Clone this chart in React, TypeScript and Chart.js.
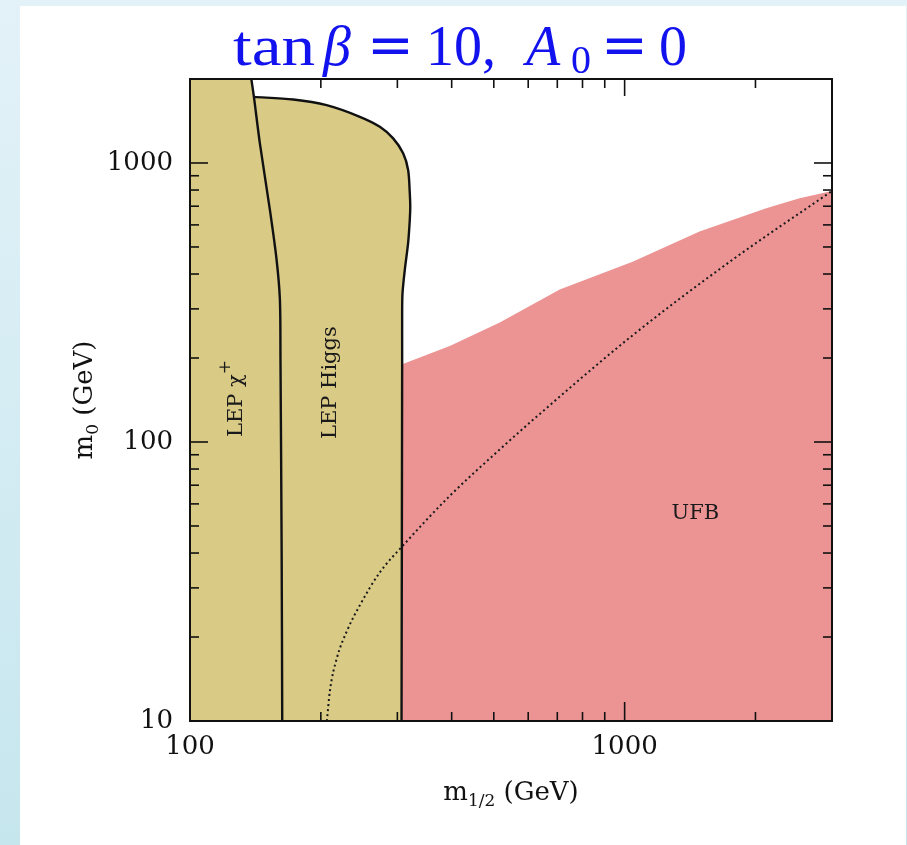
import React, { useEffect, useRef } from "react";
import { Chart, registerables } from "chart.js";

Chart.register(...registerables);

// Axis ranges (GeV)
const M12_MIN = 100;
const M12_MAX = 3000;
const M0_MIN = 10;
const M0_MAX = 2000;

// LEP chargino bound: m_1/2 vs m_0
const CHARGINO_M12 = [138.4, 140.3, 144.8, 152.7, 158.2, 161.0, 161.5, 162.5, 163.0];
const CHARGINO_M0 = [2000, 1725, 1176, 679, 450, 324, 198, 40.5, 10];

// LEP Higgs bound
const HIGGS_M12 = [140.3, 172.8, 206.2, 245.9, 273.4, 293.4, 309.3, 317.6, 320.4, 321.2, 320.4, 317.6, 312.1, 308.3, 307.7, 307.7, 306.7];
const HIGGS_M0 = [1725, 1689, 1611, 1464, 1348, 1225, 1083, 944, 779, 698, 626, 517, 415, 342, 291, 198, 10];

// Upper edge of the UFB-excluded region
const UFB_M12 = [307.7, 396, 516, 709, 1043, 1487, 2117, 2526, 3000];
const UFB_M0 = [190, 221, 268, 352, 443, 568, 689, 748, 794];

// Dotted contour
const DOT_M12 = [206.5, 209.8, 217.7, 229.6, 245.9, 273.4, 308.9, 396, 516, 614.5, 1043, 1771, 3000];
const DOT_M0 = [10, 12.8, 16.8, 21.0, 26.0, 34.1, 42.5, 64.1, 94.0, 119.8, 241.1, 450, 794];

// Tick marks and labels
const X_LABELED = [100, 1000];
const Y_LABELED = [10, 100, 1000];
const X_MINOR = [200, 300, 400, 500, 600, 700, 800, 900, 2000];
const X_MAJOR = [1000];
const Y_MINOR = [20, 30, 40, 50, 60, 70, 80, 90, 200, 300, 400, 500, 600, 700, 800, 900];
const Y_MAJOR = [100, 1000];

// In-plot annotations (anchored in data coordinates)
const REGION_LABELS = [
  { parts: [{ t: "LEP \u03c7", s: 21, dy: 0 }, { t: "+", s: 17, dy: -12 }], m12: 131.7, m0: 104.2, rotate: true },
  { parts: [{ t: "LEP Higgs", s: 21, dy: 0 }], m12: 216.6, m0: 102.5, rotate: true },
  { parts: [{ t: "UFB", s: 21, dy: 0 }], m12: 1282, m0: 53.1, rotate: false },
];

const TAN = "#d9ca86";
const PINK = "#ec9494";
const INK = "#111111";
const SERIF = '"DejaVu Serif", serif';

const pts = (xs: number[], ys: number[]) => xs.map((x, i) => ({ x, y: ys[i] }));

type Part = { t: string; s: number; dy: number };

function drawParts(ctx: CanvasRenderingContext2D, parts: Part[], x: number, y: number, rotate: boolean, centered: boolean) {
  ctx.save();
  ctx.translate(x, y);
  if (rotate) ctx.rotate(-Math.PI / 2);
  ctx.textBaseline = "alphabetic";
  ctx.textAlign = "left";
  const widths = parts.map((p) => {
    ctx.font = `${p.s}px ${SERIF}`;
    return ctx.measureText(p.t).width;
  });
  const total = widths.reduce((a, b) => a + b, 0);
  let cx = centered ? -total / 2 : 0;
  parts.forEach((p, i) => {
    ctx.font = `${p.s}px ${SERIF}`;
    ctx.fillText(p.t, cx, p.dy);
    cx += widths[i];
  });
  ctx.restore();
}

const decorPlugin = {
  id: "frameAndLabels",
  afterDatasetsDraw(chart: any) {
    const { ctx, chartArea } = chart;
    const { left, right, top, bottom } = chartArea;
    const xs = chart.scales.x;
    const ys = chart.scales.y;
    ctx.save();
    ctx.strokeStyle = INK;
    ctx.fillStyle = INK;

    const seg = (x1: number, y1: number, x2: number, y2: number) => {
      ctx.beginPath();
      ctx.moveTo(x1, y1);
      ctx.lineTo(x2, y2);
      ctx.stroke();
    };

    // inward ticks on all four sides
    ctx.lineWidth = 1.6;
    X_MINOR.forEach((v) => {
      const p = xs.getPixelForValue(v);
      seg(p, bottom, p, bottom - 9);
      seg(p, top, p, top + 9);
    });
    X_MAJOR.forEach((v) => {
      const p = xs.getPixelForValue(v);
      seg(p, bottom, p, bottom - 19);
      seg(p, top, p, top + 17);
    });
    Y_MINOR.forEach((v) => {
      const p = ys.getPixelForValue(v);
      seg(left, p, left + 9, p);
      seg(right, p, right - 9, p);
    });
    Y_MAJOR.forEach((v) => {
      const p = ys.getPixelForValue(v);
      seg(left, p, left + 18, p);
      seg(right, p, right - 18, p);
    });

    // frame
    ctx.lineWidth = 2;
    ctx.strokeRect(left, top, right - left, bottom - top);

    // region labels
    ctx.fillStyle = "#1a1a1a";
    REGION_LABELS.forEach((l) => {
      drawParts(ctx, l.parts, xs.getPixelForValue(l.m12), ys.getPixelForValue(l.m0), l.rotate, false);
    });

    // axis titles
    ctx.fillStyle = INK;
    drawParts(
      ctx,
      [
        { t: "m", s: 26, dy: 0 },
        { t: "1/2", s: 17, dy: 6 },
        { t: " (GeV)", s: 26, dy: 0 },
      ],
      (left + right) / 2,
      bottom + 79,
      false,
      true
    );
    drawParts(
      ctx,
      [
        { t: "m", s: 26, dy: 0 },
        { t: "0", s: 17, dy: 6 },
        { t: " (GeV)", s: 26, dy: 0 },
      ],
      left - 98,
      (top + bottom) / 2,
      true,
      true
    );
    ctx.restore();
  },
};

const near = (v: number, list: number[]) => list.some((t) => Math.abs(v - t) < 1e-6 * t);

export default function App() {
  const ref = useRef<HTMLCanvasElement | null>(null);

  useEffect(() => {
    if (!ref.current) return;

    const tanShape = [
      { x: M12_MIN, y: M0_MIN },
      { x: M12_MIN, y: M0_MAX },
      { x: CHARGINO_M12[0], y: CHARGINO_M0[0] },
      ...pts(HIGGS_M12, HIGGS_M0),
    ];
    const ufbShape = [{ x: UFB_M12[0], y: M0_MIN }, ...pts(UFB_M12, UFB_M0), { x: M12_MAX, y: M0_MIN }];

    const chart = new Chart(ref.current, {
      type: "scatter",
      data: {
        datasets: [
          {
            data: tanShape,
            showLine: true,
            fill: "shape",
            backgroundColor: TAN,
            borderWidth: 0,
            borderColor: "rgba(0,0,0,0)",
            pointRadius: 0,
            tension: 0,
            order: 5,
          },
          {
            data: ufbShape,
            showLine: true,
            fill: "shape",
            backgroundColor: PINK,
            borderWidth: 0,
            borderColor: "rgba(0,0,0,0)",
            pointRadius: 0,
            tension: 0,
            order: 4,
          },
          {
            data: pts(DOT_M12, DOT_M0),
            showLine: true,
            borderColor: "#1a1a1a",
            borderWidth: 2,
            borderDash: [2, 3],
            pointRadius: 0,
            cubicInterpolationMode: "monotone",
            order: 3,
          },
          {
            data: pts(CHARGINO_M12, CHARGINO_M0),
            showLine: true,
            borderColor: INK,
            borderWidth: 2.4,
            pointRadius: 0,
            tension: 0.3,
            order: 2,
          },
          {
            data: pts(HIGGS_M12, HIGGS_M0),
            showLine: true,
            borderColor: INK,
            borderWidth: 2.4,
            pointRadius: 0,
            tension: 0.3,
            order: 1,
          },
        ],
      },
      options: {
        animation: false,
        responsive: false,
        devicePixelRatio: 1,
        events: [],
        layout: { padding: { top: 79, right: 75, left: 0, bottom: 0 } },
        plugins: {
          legend: { display: false },
          tooltip: { enabled: false },
          title: { display: false },
        },
        scales: {
          x: {
            type: "logarithmic",
            min: M12_MIN,
            max: M12_MAX,
            grid: { display: false, drawTicks: false },
            border: { display: false },
            afterFit: (s: any) => {
              s.height = 124;
            },
            ticks: {
              autoSkip: false,
              maxRotation: 0,
              minRotation: 0,
              padding: 11,
              color: INK,
              font: { family: SERIF, size: 26 },
              callback: (v: any) => (near(Number(v), X_LABELED) ? String(Math.round(Number(v))) : ""),
            },
          },
          y: {
            type: "logarithmic",
            min: M0_MIN,
            max: M0_MAX,
            grid: { display: false, drawTicks: false },
            border: { display: false },
            afterFit: (s: any) => {
              s.width = 190;
            },
            ticks: {
              autoSkip: false,
              padding: 17,
              color: INK,
              font: { family: SERIF, size: 26 },
              callback: (v: any) => (near(Number(v), Y_LABELED) ? String(Math.round(Number(v))) : ""),
            },
          },
        },
      },
      plugins: [decorPlugin],
    } as any);

    return () => chart.destroy();
  }, []);

  const blue = "#1212ee";
  const tf = '"Liberation Serif", "Times New Roman", serif';
  const piece = (text: string, left: number, top: number, size: number, extra: React.CSSProperties = {}) => (
    <span
      style={{
        position: "absolute",
        left,
        top,
        fontFamily: tf,
        fontSize: size,
        lineHeight: 1,
        color: blue,
        whiteSpace: "pre",
        ...extra,
      }}
    >
      {text}
    </span>
  );
  const eq = { fontFamily: '"DejaVu Serif", serif', fontSize: 56, top: 17 };

  return (
    <div
      style={{
        position: "fixed",
        left: 0,
        top: 0,
        width: 907,
        height: 845,
        background: "linear-gradient(to bottom, #e3f2f8, #c6e6ee)",
        overflow: "hidden",
      }}
    >
      <div style={{ position: "absolute", left: 20, top: 6, width: 886, height: 839, background: "#ffffff" }} />
      <canvas ref={ref} width={907} height={845} style={{ position: "absolute", left: 0, top: 0, width: 907, height: 845 }} />
      <div style={{ position: "absolute", left: 0, top: 0 }}>
        {piece("tan", 233, 18, 56, { transform: "scaleX(1.2)", transformOrigin: "left center" })}
        {piece("\u03b2", 323, 18, 56, { fontStyle: "italic" })}
        {piece("=", 367, 18, 56, eq)}
        {piece("10,", 426, 18, 56)}
        {piece("A", 526, 18, 56, { fontStyle: "italic" })}
        {piece("0", 571, 40, 40)}
        {piece("=", 601, 18, 56, eq)}
        {piece("0", 659, 18, 56)}
      </div>
    </div>
  );
}
